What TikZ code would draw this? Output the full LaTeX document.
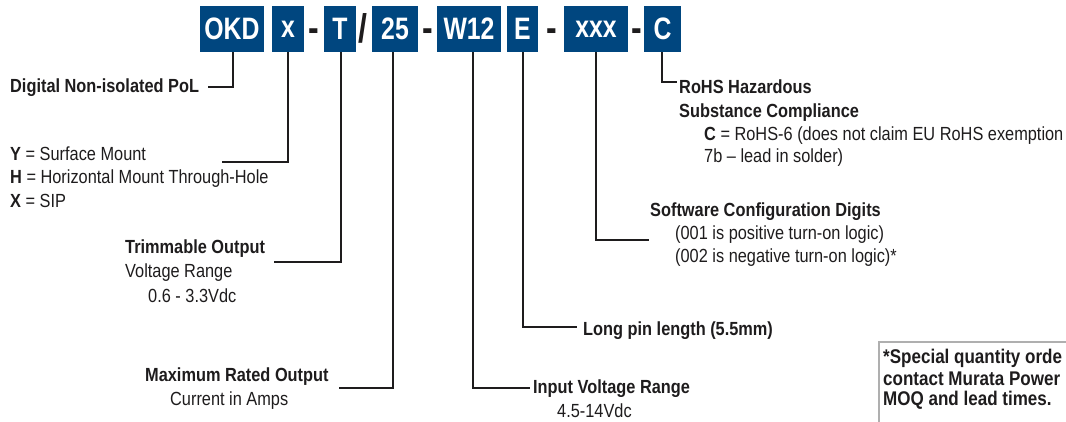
\documentclass[tikz,border=0pt]{standalone}
\usepackage{fontspec}
\setmainfont{Liberation Sans}[FakeStretch=0.86]
\newfontfamily\boxfont{Liberation Sans}[FakeStretch=0.8]
\definecolor{murata}{RGB}{0,70,127}
\definecolor{ink}{RGB}{30,28,29}
\definecolor{frame}{RGB}{175,175,175}
\tikzset{
  cbox/.style={fill=murata, text=white, inner sep=0pt, minimum height=46pt,
    font=\boxfont\bfseries\fontsize{31}{32}\selectfont},
  sep/.style={anchor=base, text=ink, inner sep=0pt, font=\boxfont\bfseries\fontsize{40}{42}\selectfont},
  conn/.style={draw=ink, line width=1.4pt},
  lbl/.style={anchor=base west, inner sep=0pt, text=ink, font=\fontsize{19}{23}\selectfont},
  blbl/.style={lbl, font=\bfseries\fontsize{19}{23}\selectfont},
  nlbl/.style={lbl, font=\bfseries\fontsize{19.8}{23}\selectfont},
}
\begin{document}
\begin{tikzpicture}[x=1pt,y=-1pt]
\useasboundingbox (0,0) rectangle (1066,422);
\clip (0,0) rectangle (1066,422);
% part-number boxes
\node[cbox, minimum width=64pt] (okd) at (232,29) {OKD};
\node[cbox, minimum width=32pt] (xb) at (288,29) {x};
\node[sep] (d1) at (314,42) {-};
\node[cbox, minimum width=32pt] (tb) at (340,29) {T};
\node[sep] (sl) at (363,43) {/};
\node[cbox, minimum width=46pt] (b25) at (395,29) {25};
\node[sep] (d2) at (428,42) {-};
\node[cbox, minimum width=64pt] (w12) at (469,29) {W12};
\node[cbox, minimum width=31pt] (eb) at (522.5,29) {E};
\node[sep] (d3) at (552,42) {-};
\node[cbox, minimum width=64pt] (xxx) at (596,29) {xxx};
\node[sep] (d4) at (637,42) {-};
\node[cbox, minimum width=37pt] (cb) at (662.5,29) {C};
% labels
\node[blbl] (dig) at (10,93) {Digital Non-isolated PoL};
\node[lbl] (my) at (10,161) {\textbf{Y} = Surface Mount};
\node[lbl] (mh) at (10,184) {\textbf{H} = Horizontal Mount Through-Hole};
\node[lbl] (mx) at (10,208) {\textbf{X} = SIP};
\node[blbl] (trim) at (125,254) {Trimmable Output};
\node[lbl] (vr) at (125,278) {Voltage Range};
\node[lbl] (vv) at (148,302) {0.6 - 3.3Vdc};
\node[blbl] (mro) at (145,381) {Maximum Rated Output};
\node[lbl] (cia) at (170,405) {Current in Amps};
\node[blbl] (ivr) at (533,393) {Input Voltage Range};
\node[lbl] (ivv) at (557,417) {4.5-14Vdc};
\node[blbl] (lpl) at (583,335) {Long pin length (5.5mm)};
\node[blbl] (scd) at (650,217) {Software Configuration Digits};
\node[lbl] (s1) at (675,240) {(001 is positive turn-on logic)};
\node[lbl] (s2) at (675,262) {(002 is negative turn-on logic)*};
\node[blbl] (rh) at (679,94) {RoHS Hazardous};
\node[blbl] (sc) at (679,118) {Substance Compliance};
\node[lbl] (c1) at (704,141) {\textbf{C} = RoHS-6 (does not claim EU RoHS exemption};
\node[lbl] (c2) at (704,163) {7b -- lead in solder)};
% note box
\draw[frame, line width=2pt] (879,342) rectangle (1090,440);
\node[nlbl] (n1) at (883,363) {*Special quantity orde};
\node[nlbl] (n2) at (883,385) {contact Murata Power};
\node[nlbl] (n3) at (883,405) {MOQ and lead times.};
% connector ends
\coordinate (eOKD) at (208,87);
\coordinate (eX) at (222,162);
\coordinate (eT) at (274,262);
\coordinate (e25) at (339,388);
\coordinate (eW) at (530,388);
\coordinate (eE) at (577,327);
\coordinate (eXXX) at (649,240);
\coordinate (eC) at (677,82);
% connectors
\draw[conn] ([xshift=1pt]okd.south) |- (eOKD);
\draw[conn] (xb.south) |- (eX);
\draw[conn] ([xshift=1pt]tb.south) |- (eT);
\draw[conn] ([xshift=-2pt]b25.south) |- (e25);
\draw[conn] ([xshift=4pt]w12.south) |- (eW);
\draw[conn] ([xshift=0.5pt]eb.south) |- (eE);
\draw[conn] (xxx.south) |- (eXXX);
\draw[conn] ([xshift=-0.5pt]cb.south) |- (eC);
\end{tikzpicture}
\end{document}
